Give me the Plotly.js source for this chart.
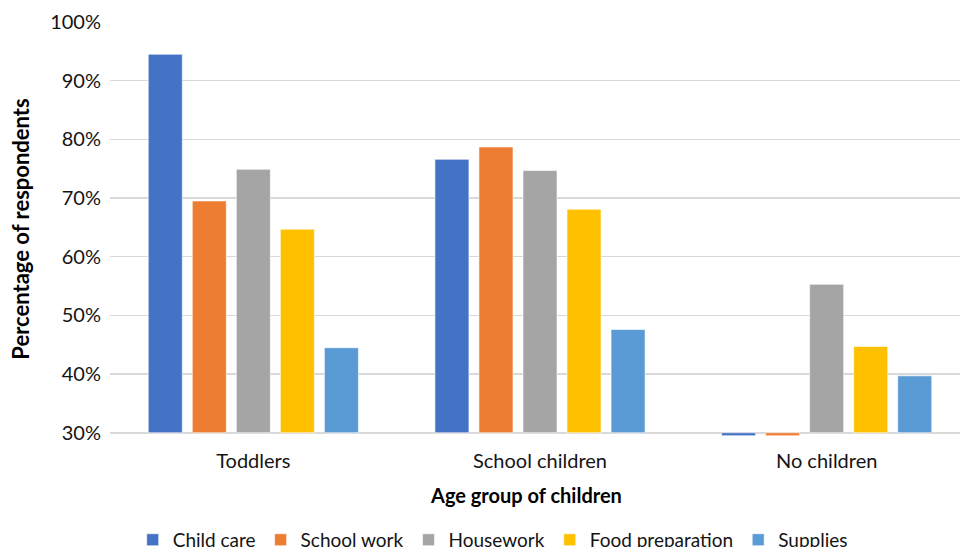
<!DOCTYPE html>
<html>
<head>
<meta charset="utf-8">
<script src="https://cdn.plot.ly/plotly-3.0.1.min.js"></script>
<style>
  html, body { margin: 0; padding: 0; background: #fff; overflow: hidden; }
  #chart { width: 960px; height: 547px; overflow: hidden; }
</style>
</head>
<body>
<div id="chart"></div>
<script>
// Age groups along the x axis
const ageGroups = ['Toddlers', 'School children', 'No children'];

// Share of respondents per activity (fraction of 1)
const childCare       = [0.945, 0.766, 0.295];
const schoolWork      = [0.695, 0.787, 0.295];
const housework       = [0.749, 0.747, 0.553];
const foodPreparation = [0.647, 0.681, 0.447];
const supplies        = [0.445, 0.476, 0.397];

const seriesNames  = ['Child care', 'School work', 'Housework', 'Food preparation', 'Supplies'];
const seriesValues = [childCare, schoolWork, housework, foodPreparation, supplies];
const seriesColors = ['#4472C4', '#ED7D31', '#A5A5A5', '#FFC000', '#5B9BD5'];

// Bars grow from the 30% axis line, where the category axis crosses
const axisBase = 0.30;

const traces = seriesNames.map((name, i) => ({
  type: 'bar',
  name: name,
  x: ageGroups,
  y: seriesValues[i].map(v => v - axisBase),
  base: axisBase,
  customdata: seriesValues[i],
  hovertemplate: '%{x}<br>' + name + ': %{customdata:.1%}<extra></extra>',
  marker: { color: seriesColors[i], line: { color: 'rgba(255,255,255,0.6)', width: 1 } }
}));

const textFont = 'Lato, "Open Sans", sans-serif';

// The plot area runs slightly past the right edge of the page, which is clipped
const layout = {
  width: 970,
  height: 547,
  margin: { l: 110, r: 0, t: 22, b: 111, autoexpand: false },
  paper_bgcolor: '#ffffff',
  plot_bgcolor: '#ffffff',
  font: { family: textFont, color: '#141414', size: 20 },
  barmode: 'group',
  bargap: 0.232,
  bargroupgap: 0.227,
  showlegend: true,
  legend: {
    orientation: 'h',
    x: 0.445, xanchor: 'center',
    y: -0.205, yanchor: 'top',
    font: { size: 19, color: '#141414' },
    itemclick: false
  },
  annotations: [{
    // category axis title, centred under the chart body
    text: '<b>Age group of children</b>',
    xref: 'paper', yref: 'paper',
    x: 0.484, y: -0.143,
    xanchor: 'center', yanchor: 'middle',
    showarrow: false,
    font: { size: 20, family: textFont, color: '#000' }
  }],
  xaxis: {
    type: 'category',
    showgrid: false,
    showline: false,
    ticks: '',
    ticklabelstandoff: 11,
    tickfont: { size: 20 }
  },
  yaxis: {
    range: [0.2945, 1.0],
    tickvals: [0.3, 0.4, 0.5, 0.6, 0.7, 0.8, 0.9, 1.0],
    tickformat: '.0%',
    showgrid: true,
    gridcolor: '#d9d9d9',
    gridwidth: 1.5,
    zeroline: false,
    showline: false,
    ticks: '',
    ticklabelstandoff: 8,
    tickfont: { size: 20 },
    title: {
      text: 'Percentage of respondents',
      font: { size: 22, family: textFont, weight: 'bold', color: '#000' },
      standoff: 14
    }
  }
};

Plotly.newPlot('chart', traces, layout, { displayModeBar: false, staticPlot: true });
</script>
</body>
</html>
